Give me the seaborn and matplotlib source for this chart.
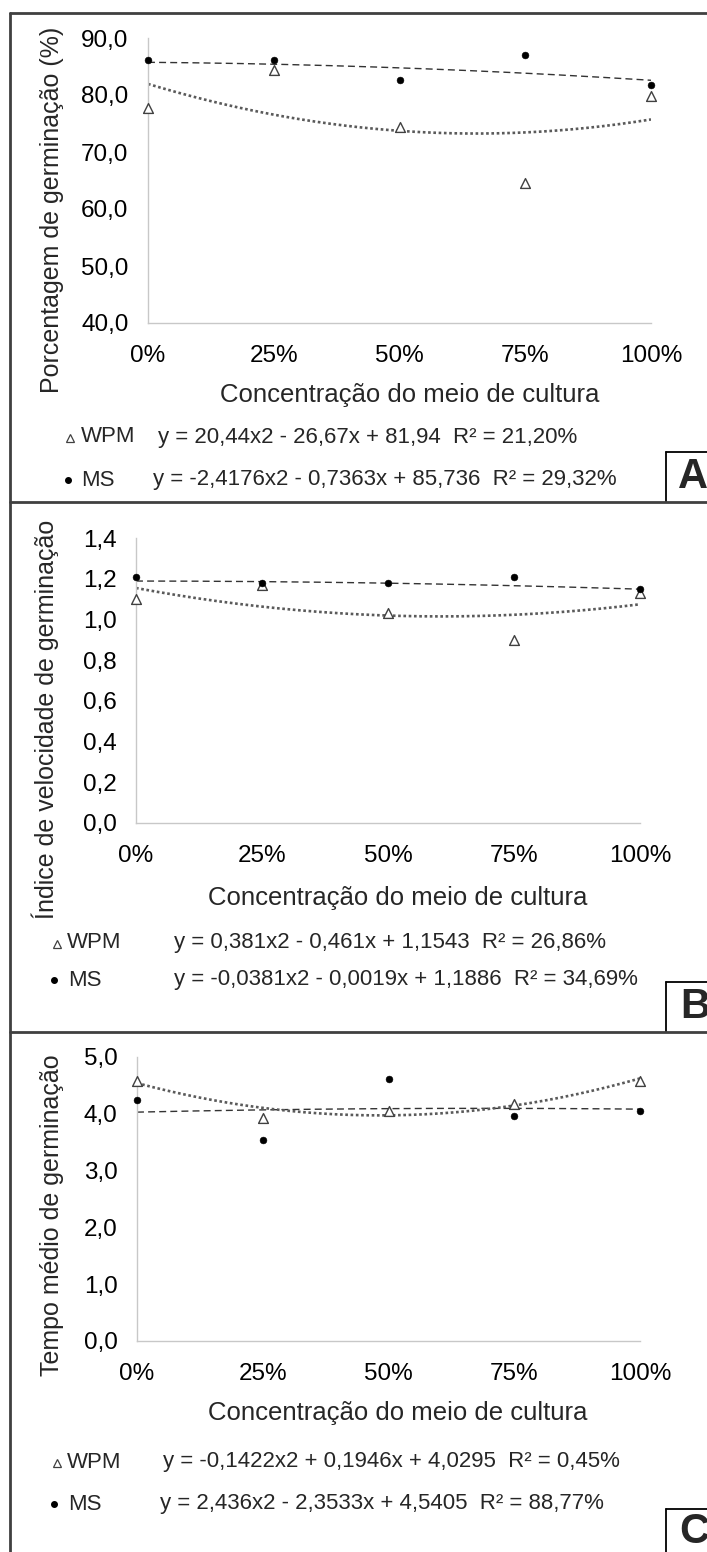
import numpy as np
import pandas as pd
import matplotlib
matplotlib.use("Agg")
import matplotlib.pyplot as plt
from matplotlib.lines import Line2D
import seaborn as sns

# dados
conc = [0, 25, 50, 75, 100]
conc_labels = ["0%", "25%", "50%", "75%", "100%"]

pg_wpm = [77.7, 84.4, 74.3, 64.6, 79.9]
pg_ms = [86.1, 86.2, 82.6, 87.1, 81.8]
ivg_wpm = [1.10, 1.17, 1.03, 0.90, 1.13]
ivg_ms = [1.21, 1.18, 1.18, 1.21, 1.15]
tmg_wpm = [4.58, 3.92, 4.05, 4.18, 4.57]
tmg_ms = [4.24, 3.53, 4.62, 3.97, 4.05]

# coeficientes das equações (x em fração 0-1)
coef_pg_wpm = [20.44, -26.67, 81.94]
coef_pg_ms = [-2.4176, -0.7363, 85.736]
coef_ivg_wpm = [0.381, -0.461, 1.1543]
coef_ivg_ms = [-0.0381, -0.0019, 1.1886]
coef_tmg_wpm = [-0.1422, 0.1946, 4.0295]
coef_tmg_ms = [2.436, -2.3533, 4.5405]

eq_pg = ["y = 20,44x2 - 26,67x + 81,94  R² = 21,20%",
         "y = -2,4176x2 - 0,7363x + 85,736  R² = 29,32%"]
eq_ivg = ["y = 0,381x2 - 0,461x + 1,1543  R² = 26,86%",
          "y = -0,0381x2 - 0,0019x + 1,1886  R² = 34,69%"]
eq_tmg = ["y = -0,1422x2 + 0,1946x + 4,0295  R² = 0,45%",
          "y = 2,436x2 - 2,3533x + 4,5405  R² = 88,77%"]

ylabels = ["Porcentagem de germinação (%)",
           "Índice de velocidade de germinação",
           "Tempo médio de germinação"]
xlabel = "Concentração do meio de cultura"

sns.set_style("white")
plt.rcParams["font.family"] = ["Liberation Sans", "DejaVu Sans"]

W, H = 707, 1552
fig = plt.figure(figsize=(W / 100, H / 100), dpi=100)


def fx(x):
    return x / W


def fy(y):
    return 1 - y / H


def fline(xs, ys, color="#404040", lw=2.0):
    fig.add_artist(Line2D([fx(v) for v in xs], [fy(v) for v in ys],
                          transform=fig.transFigure, color=color, lw=lw))


dotted = (0, (1, 1))
dashed = (0, (5, 3))

panels = [
    dict(box=(148, 651, 38, 323), ylim=(40, 90), yticks=np.arange(40, 91, 10),
         wpm=pg_wpm, ms=pg_ms, cw=coef_pg_wpm, cm=coef_pg_ms, sw=dotted, sm=dashed,
         eq=eq_pg, ylab=ylabels[0], ylab_xy=(52, 210), xlab_xy=(410, 395),
         leg=[(70, 81, 158, 437), (68, 81, 153, 480)], letter="A", let_xy=(693, 477),
         letbox=(666, 452, 502)),
    dict(box=(136, 640, 538, 823), ylim=(0, 1.4), yticks=np.arange(0, 1.41, 0.2),
         wpm=ivg_wpm, ms=ivg_ms, cw=coef_ivg_wpm, cm=coef_ivg_ms, sw=dotted, sm=dashed,
         eq=eq_ivg, ylab=ylabels[1], ylab_xy=(45, 719), xlab_xy=(398, 898),
         leg=[(57, 67, 174, 943), (54, 68, 174, 980)], letter="B", let_xy=(695, 1007),
         letbox=(666, 982, 1032)),
    dict(box=(137, 640, 1057, 1341), ylim=(0, 5), yticks=np.arange(0, 5.1, 1),
         wpm=tmg_wpm, ms=tmg_ms, cw=coef_tmg_wpm, cm=coef_tmg_ms, sw=dashed, sm=dotted,
         eq=eq_tmg, ylab=ylabels[2], ylab_xy=(52, 1215), xlab_xy=(398, 1413),
         leg=[(57, 67, 163, 1462), (54, 68, 160, 1504)], letter="C", let_xy=(694, 1532),
         letbox=(666, 1509, 1552)),
]

xs = np.linspace(0, 1, 200)


def estilo(ln, st):
    ln.set_linestyle(st)
    if st == dotted:
        ln.set_linewidth(1.9)
        ln.set_color("#5a5a5a")
    else:
        ln.set_linewidth(1.0)
        ln.set_color("#333333")


for p in panels:
    l, r, t, b = p["box"]
    ax = fig.add_axes([fx(l), fy(b), (r - l) / W, (b - t) / H])

    # linhas de tendência
    sns.lineplot(x=xs * 100, y=np.polyval(p["cw"], xs), ax=ax)
    sns.lineplot(x=xs * 100, y=np.polyval(p["cm"], xs), ax=ax)
    estilo(ax.lines[0], p["sw"])
    estilo(ax.lines[1], p["sm"])

    df = pd.DataFrame({"conc": conc, "WPM": p["wpm"], "MS": p["ms"]})
    sns.scatterplot(data=df, x="conc", y="WPM", ax=ax, marker="^", s=50,
                    facecolor="white", edgecolor="#404040", linewidth=1.0,
                    clip_on=False, zorder=4)
    sns.scatterplot(data=df, x="conc", y="MS", ax=ax, marker="o", s=24,
                    color="black", edgecolor="black", clip_on=False, zorder=5)

    ax.set_xlim(0, 100)
    ax.set_ylim(*p["ylim"])
    ax.set_xticks(conc)
    ax.set_xticklabels(conc_labels)
    ax.set_yticks(p["yticks"])
    ax.set_yticklabels(["{:.1f}".format(v).replace(".", ",") for v in p["yticks"]])
    ax.tick_params(axis="both", length=0, labelsize=17.5, colors="black")
    ax.tick_params(axis="x", pad=16)
    ax.tick_params(axis="y", pad=14)
    ax.set_xlabel("")
    ax.set_ylabel("")
    for s in ["top", "right"]:
        ax.spines[s].set_visible(False)
    for s in ["left", "bottom"]:
        ax.spines[s].set_color("#c8c8c8")
        ax.spines[s].set_linewidth(1.0)

    fig.text(fx(p["ylab_xy"][0]), fy(p["ylab_xy"][1]), p["ylab"], rotation=90,
             ha="center", va="center", fontsize=18)
    fig.text(fx(p["xlab_xy"][0]), fy(p["xlab_xy"][1]), xlabel,
             ha="center", va="center", fontsize=18.5)

    # legenda com equações
    names = ["WPM", "MS"]
    for i, (mx, tx, ex, yy) in enumerate(p["leg"]):
        if i == 0:
            fig.add_artist(Line2D([fx(mx)], [fy(yy + 1)], transform=fig.transFigure,
                                  marker="^", ms=6, mfc="white", mec="#404040", mew=0.9, ls=""))
        else:
            fig.add_artist(Line2D([fx(mx)], [fy(yy)], transform=fig.transFigure,
                                  marker="o", ms=4, mfc="black", mec="black", ls=""))
        fig.text(fx(tx), fy(yy), names[i], ha="left", va="center", fontsize=16)
        fig.text(fx(ex), fy(yy), p["eq"][i], ha="left", va="center", fontsize=16)

    # caixa da letra
    bx, bt, bb = p["letbox"]
    fline([bx, bx], [bt, bb], color="black", lw=1.3)
    fline([bx, W], [bt, bt], color="black", lw=1.3)
    fig.text(fx(p["let_xy"][0]), fy(p["let_xy"][1]), p["letter"], ha="center",
             va="center", fontsize=30, fontweight="bold")

# moldura
fline([10, 10], [13, H], lw=2.0)
fline([10, W], [13, 13], lw=2.0)
fline([10, W], [502, 502], lw=2.0)
fline([10, W], [1032, 1032], lw=2.0)

fig.savefig("out.png", dpi=100)
